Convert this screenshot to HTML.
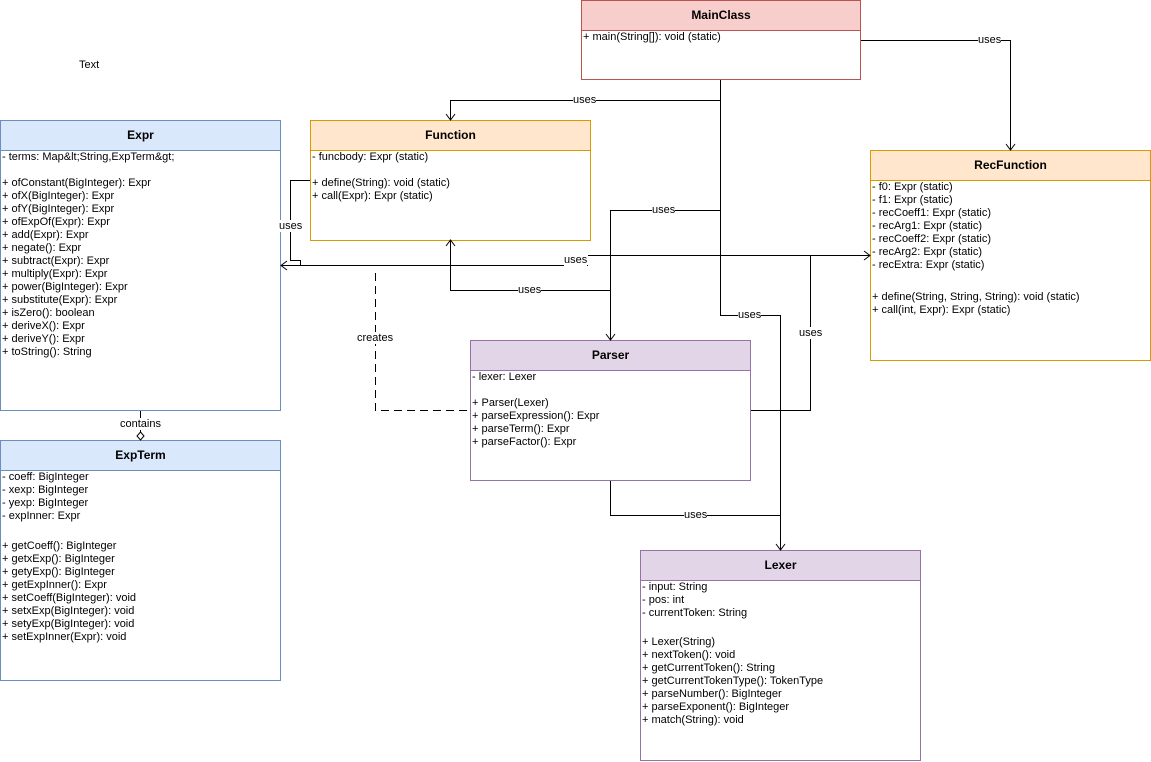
<!DOCTYPE html>
<html><head><meta charset="utf-8"><style>
body{margin:0;width:1151px;height:762px;background:#fff;position:relative;overflow:hidden;font-family:"Liberation Sans",Arial,sans-serif;}
.box{position:absolute;box-sizing:border-box;border:1px solid;background:#fff;}
.hd{height:30px;box-sizing:border-box;border-bottom:1px solid;font-weight:bold;font-size:12px;text-align:center;line-height:29px;}
.bd{font-size:11px;line-height:13px;white-space:pre;padding:0 0 0 1px;color:#000;}
.lbl{position:absolute;font-size:11px;background:#fff;line-height:12px;}
svg{position:absolute;left:0;top:0;}
</style></head><body>
<div class="lbl" style="left:79px;top:59px;background:none">Text</div>

<div class="box" style="left:581px;top:0;width:280px;height:80px;border-color:#b85450">
<div class="hd" style="background:#f8cecc;border-color:#b85450">MainClass</div>
<div class="bd">+ main(String[]): void (static)</div></div>

<div class="box" style="left:0;top:120px;width:281px;height:291px;border-color:#6c8ebf">
<div class="hd" style="background:#dae8fc;border-color:#6c8ebf">Expr</div>
<div class="bd">- terms: Map&amp;lt;String,ExpTerm&amp;gt;

+ ofConstant(BigInteger): Expr
+ ofX(BigInteger): Expr
+ ofY(BigInteger): Expr
+ ofExpOf(Expr): Expr
+ add(Expr): Expr
+ negate(): Expr
+ subtract(Expr): Expr
+ multiply(Expr): Expr
+ power(BigInteger): Expr
+ substitute(Expr): Expr
+ isZero(): boolean
+ deriveX(): Expr
+ deriveY(): Expr
+ toString(): String</div></div>

<div class="box" style="left:310px;top:120px;width:281px;height:121px;border-color:#d79b00">
<div class="hd" style="background:#ffe6cc;border-color:#d79b00">Function</div>
<div class="bd">- funcbody: Expr (static)

+ define(String): void (static)
+ call(Expr): Expr (static)</div></div>

<div class="box" style="left:870px;top:150px;width:281px;height:211px;border-color:#d79b00">
<div class="hd" style="background:#ffe6cc;border-color:#d79b00">RecFunction</div>
<div class="bd">- f0: Expr (static)
- f1: Expr (static)
- recCoeff1: Expr (static)
- recArg1: Expr (static)
- recCoeff2: Expr (static)
- recArg2: Expr (static)
- recExtra: Expr (static)
</div><div class="bd" style="margin-top:6px">
+ define(String, String, String): void (static)
+ call(int, Expr): Expr (static)</div></div>

<div class="box" style="left:470px;top:340px;width:281px;height:141px;border-color:#9673a6">
<div class="hd" style="background:#e1d5e7;border-color:#9673a6">Parser</div>
<div class="bd">- lexer: Lexer

+ Parser(Lexer)
+ parseExpression(): Expr
+ parseTerm(): Expr
+ parseFactor(): Expr</div></div>

<div class="box" style="left:0;top:440px;width:281px;height:241px;border-color:#6c8ebf">
<div class="hd" style="background:#dae8fc;border-color:#6c8ebf">ExpTerm</div>
<div class="bd">- coeff: BigInteger
- xexp: BigInteger
- yexp: BigInteger
- expInner: Expr
</div><div class="bd" style="margin-top:4px">
+ getCoeff(): BigInteger
+ getxExp(): BigInteger
+ getyExp(): BigInteger
+ getExpInner(): Expr
+ setCoeff(BigInteger): void
+ setxExp(BigInteger): void
+ setyExp(BigInteger): void
+ setExpInner(Expr): void</div></div>

<div class="box" style="left:640px;top:550px;width:281px;height:211px;border-color:#9673a6">
<div class="hd" style="background:#e1d5e7;border-color:#9673a6">Lexer</div>
<div class="bd">- input: String
- pos: int
- currentToken: String
</div><div class="bd" style="margin-top:3px">
+ Lexer(String)
+ nextToken(): void
+ getCurrentToken(): String
+ getCurrentTokenType(): TokenType
+ parseNumber(): BigInteger
+ parseExponent(): BigInteger
+ match(String): void</div></div>

<svg width="1151" height="762" fill="none" stroke="#000" stroke-width="1">
<g shape-rendering="crispEdges">
<polyline points="720.5,80 720.5,315.5 780.5,315.5 780.5,549"/>
<polyline points="720.5,100.5 450.5,100.5 450.5,119"/>
<polyline points="720.5,210.5 610.5,210.5 610.5,339"/>
<polyline points="610.5,290.5 450.5,290.5 450.5,241"/>
<polyline points="861,40.5 1010.5,40.5 1010.5,149"/>
<polyline points="610.5,481 610.5,515.5 780.5,515.5"/>
<polyline points="310,180.5 290.5,180.5 290.5,260.5 300.5,260.5 300.5,265.5"/>
<polyline points="282,265.5 588,265.5"/>
<polyline points="588,255.5 869,255.5"/>
<polyline points="751,410.5 810.5,410.5 810.5,255.5"/>
<polyline points="375.5,273 375.5,410.5 470,410.5" stroke-dasharray="8 5"/>
<line x1="140.5" y1="411" x2="140.5" y2="432"/>
</g>
<g stroke-width="1">
<polyline points="446,114 450.5,120 455,114"/>
<polyline points="606,334 610.5,340 615,334"/>
<polyline points="776,544 780.5,550 785,544"/>
<polyline points="1006,144 1010.5,150 1015,144"/>
<polyline points="446,246 450.5,240 455,246"/>
<polyline points="287,261 281,265.5 287,270"/>
<polyline points="864,251 870,255.5 864,260"/>
<polygon points="140.5,432 144,436 140.5,440 137,436" fill="#fff"/>
</g>
</svg>
<div class="lbl" style="left:573px;top:94px">uses</div>
<div class="lbl" style="left:652px;top:204px">uses</div>
<div class="lbl" style="left:518px;top:284px">uses</div>
<div class="lbl" style="left:738px;top:309px">uses</div>
<div class="lbl" style="left:978px;top:34px">uses</div>
<div class="lbl" style="left:684px;top:509px">uses</div>
<div class="lbl" style="left:564px;top:254px">uses</div>
<div class="lbl" style="left:799px;top:327px">uses</div>
<div class="lbl" style="left:279px;top:220px">uses</div>
<div class="lbl" style="left:357px;top:332px">creates</div>
<div class="lbl" style="left:120px;top:418px">contains</div>
</body></html>
